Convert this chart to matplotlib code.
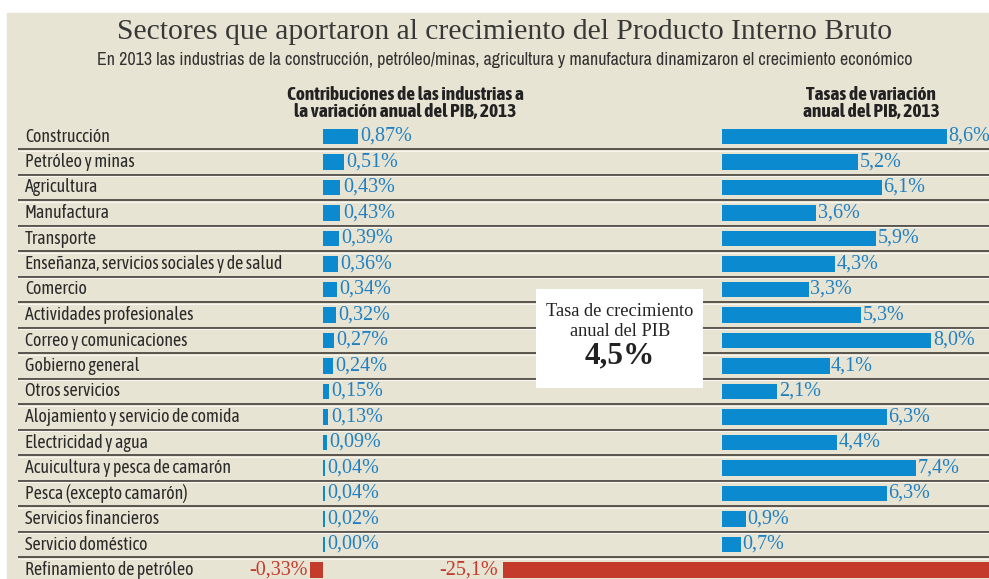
import matplotlib
matplotlib.use("Agg")
import matplotlib.pyplot as plt
from matplotlib import font_manager
from matplotlib.patches import Rectangle
import numpy as np

# ---------------- data ----------------
title = "Sectores que aportaron al crecimiento del Producto Interno Bruto"
subtitle = ("En 2013 las industrias de la construcción, petróleo/minas, agricultura "
            "y manufactura dinamizaron el crecimiento económico")
header_left = ["Contribuciones de las industrias a", "la variación anual del PIB, 2013"]
header_right = ["Tasas de variación", "anual del PIB, 2013"]
box_lines = ["Tasa de crecimiento", "anual del PIB"]
box_value = "4,5%"

sectors = ["Construcción", "Petróleo y minas", "Agricultura", "Manufactura",
           "Transporte", "Enseñanza, servicios sociales y de salud", "Comercio",
           "Actividades profesionales", "Correo y comunicaciones", "Gobierno general",
           "Otros servicios", "Alojamiento y servicio de comida", "Electricidad y agua",
           "Acuicultura y pesca de camarón", "Pesca (excepto camarón)",
           "Servicios financieros", "Servicio doméstico", "Refinamiento de petróleo"]
contrib = [0.87, 0.51, 0.43, 0.43, 0.39, 0.36, 0.34, 0.32, 0.27, 0.24,
           0.15, 0.13, 0.09, 0.04, 0.04, 0.02, 0.00, -0.33]
rates = [8.6, 5.2, 6.1, 3.6, 5.9, 4.3, 3.3, 5.3, 8.0, 4.1,
         2.1, 6.3, 4.4, 7.4, 6.3, 0.9, 0.7, -25.1]

# ---------------- style ----------------
W, H = 989, 579
BEIGE = "#e8e4d3"
BLUE = "#0b8ad0"
BLUE_TXT = "#1f80c3"
RED = "#c43b2c"
RED_TXT = "#c23b2d"
DARK = "#2b2b2b"
ROW0, PITCH = 136.5, 25.5
ZL, SL = 323.0, 40.5      # left panel: zero pixel, px per %
ZR, SR = 722.5, 26.1      # right panel
ZN, SN = 990.0, 19.4      # off-scale negative rate


def has(name):
    try:
        font_manager.findfont(font_manager.FontProperties(family=name),
                              fallback_to_default=False)
        return True
    except Exception:
        return False


def pick(*names):
    for nm in names:
        if has(nm):
            return nm
    return "DejaVu Sans"


COND = pick("Asap Condensed", "Barlow Semi Condensed", "Archivo Narrow",
            "Liberation Sans Narrow", "Lato")
NARROW = pick("Archivo Narrow", "Asap Condensed", "Barlow Condensed",
              "Liberation Sans Narrow", "Lato")
SERIF = pick("Liberation Serif", "DejaVu Serif")
NUMF = SERIF

fig = plt.figure(figsize=(W / 100, H / 100), dpi=100, facecolor="white")
renderer = fig.canvas.get_renderer()


def fit(t, target):
    for _ in range(3):
        w = t.get_window_extent(renderer).width
        t.set_fontsize(t.get_fontsize() * target / w)
    return t.get_fontsize()


bg = fig.add_axes([0, 0, 1, 1])
bg.set_xlim(0, W)
bg.set_ylim(H, 0)
bg.axis("off")
bg.add_patch(Rectangle((7, 13), W - 7, H - 13, color=BEIGE, zorder=0))

n = len(sectors)
# separators
for i in range(n - 1):
    y = ROW0 + (i + 0.5) * PITCH
    bg.plot([18, W], [y, y], color="#4d4a44", lw=1.3, zorder=1, solid_capstyle="butt")
    bg.plot([18, W], [y + 1.4, y + 1.4], color="#f8f6ee", lw=0.8, zorder=1,
            solid_capstyle="butt")

# titles
t = bg.text(505, 32, title, ha="center", va="center", family=SERIF,
            color="#383838", fontsize=20)
fit(t, 775)
t = bg.text(505, 60, subtitle, ha="center", va="center", family=NARROW,
            color="#333333", fontsize=11)
fit(t, 816)

h1 = bg.text(405, 95, header_left[0], ha="center", va="center", family=COND,
             weight="bold", color="#222222", fontsize=11)
hs = fit(h1, 237)
bg.text(405, 112, header_left[1], ha="center", va="center", family=COND,
        weight="bold", color="#222222", fontsize=hs)
bg.text(871, 95, header_right[0], ha="center", va="center", family=COND,
        weight="bold", color="#222222", fontsize=hs)
bg.text(871, 112, header_right[1], ha="center", va="center", family=COND,
        weight="bold", color="#222222", fontsize=hs)

# row labels
longest = max(sectors, key=len)
probe = bg.text(0, -50, longest, family=COND, fontsize=10)
ls = fit(probe, 256)
probe.remove()
for i, s in enumerate(sectors):
    bg.text(25, ROW0 + i * PITCH, s, ha="left", va="center", family=COND,
            fontsize=ls, color=DARK, zorder=2)

# center box
bg.add_patch(Rectangle((536, 289), 167, 99, facecolor="white", edgecolor="none", zorder=3))
b1 = bg.text(620, 312, box_lines[0], ha="center", va="center", family=SERIF,
             color="#222222", fontsize=12, zorder=4)
bs = fit(b1, 146)
bg.text(620, 332, box_lines[1], ha="center", va="center", family=SERIF,
        color="#222222", fontsize=bs, zorder=4)
b3 = bg.text(620, 356, box_value, ha="center", va="center", family=SERIF,
             weight="bold", color="#222222", fontsize=18, zorder=4)
fit(b3, 70)

# value label font size
probe = bg.text(0, -50, "0,87%", family=NUMF, fontsize=12)
vs = fit(probe, 52)
probe.remove()

ylim = ((H - ROW0) / PITCH, -ROW0 / PITCH)
idx = np.arange(n)


def panel(zero, scale):
    ax = fig.add_axes([0, 0, 1, 1])
    ax.set_xlim(-zero / scale, (W - zero) / scale)
    ax.set_ylim(*ylim)
    ax.axis("off")
    ax.patch.set_alpha(0)
    return ax


PT = 0.72  # points per pixel at dpi 100

# left panel: contributions
axl = panel(ZL, SL)
c = np.array(contrib)
disp = np.where(c >= 0, np.maximum(c, 0.04), c)
axl.barh(idx, disp, height=0.59, color=[BLUE if v >= 0 else RED for v in c], zorder=2)
for i, v in enumerate(c):
    lab = f"{v:.2f}".replace(".", ",") + "%"
    if v >= 0:
        axl.annotate(lab, (disp[i], i), xytext=(2.5 * PT, 0), textcoords="offset points",
                     ha="left", va="center", family=NUMF, fontsize=vs, color=BLUE_TXT)
    else:
        axl.annotate(lab, (disp[i], i), xytext=(-2 * PT, 0), textcoords="offset points",
                     ha="right", va="center", family=NUMF, fontsize=vs, color=RED_TXT)

# right panel: rates
axr = panel(ZR, SR)
axn = panel(ZN, SN)
r = np.array(rates)
pos = r >= 0
axr.barh(idx[pos], r[pos], height=0.59, color=BLUE, zorder=2)
for i in idx[pos]:
    lab = f"{r[i]:.1f}".replace(".", ",") + "%"
    axr.annotate(lab, (r[i], i), xytext=(1.5 * PT, 0), textcoords="offset points",
                 ha="left", va="center", family=NUMF, fontsize=vs, color=BLUE_TXT)
axn.barh(idx[~pos], r[~pos], height=0.66, color=RED, zorder=2)
for i in idx[~pos]:
    lab = f"{r[i]:.1f}".replace(".", ",") + "%"
    axn.annotate(lab, (r[i], i), xytext=(-5 * PT, 0), textcoords="offset points",
                 ha="right", va="center", family=NUMF, fontsize=vs, color=RED_TXT)

fig.savefig("out.png", dpi=100, facecolor="white")
